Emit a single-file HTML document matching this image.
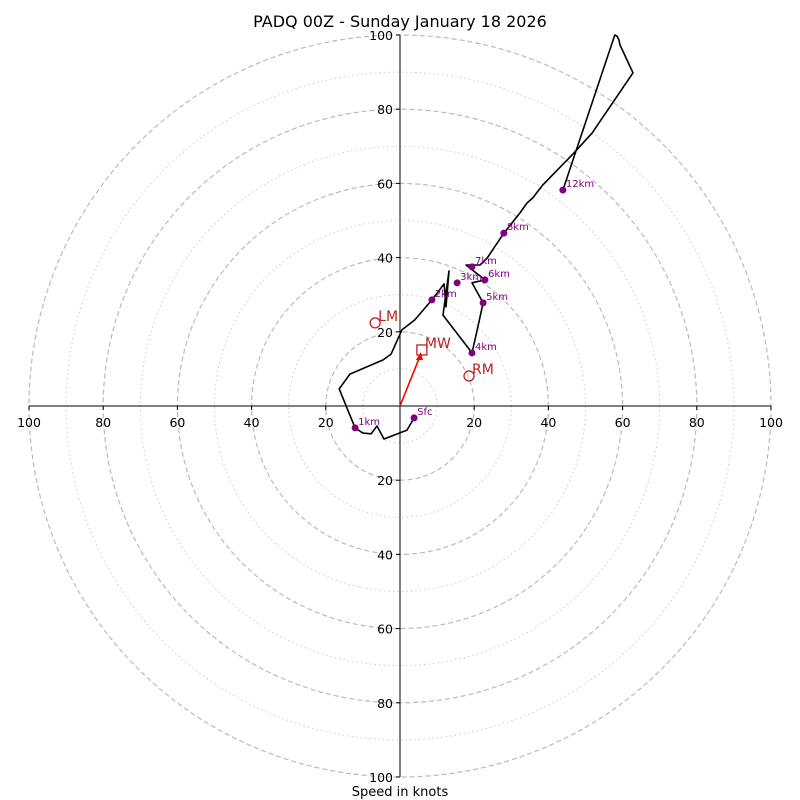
<!DOCTYPE html>
<html><head><meta charset="utf-8"><style>
html,body{margin:0;padding:0;background:#fff}
svg{display:block;font-family:"DejaVu Sans","Liberation Sans",sans-serif}
</style></head><body>
<svg id="chart" width="800" height="800" viewBox="0 0 800 800">
<text x="400" y="27" font-size="16" text-anchor="middle">PADQ 00Z - Sunday January 18 2026</text>
<text x="400" y="796" font-size="13" text-anchor="middle">Speed in knots</text>
<g id="grid"></g><g id="axes"></g><g id="plot"></g>
</svg>
<script>
const pathU=[3.8,1.9,-4.3,-6.2,-7.8,-10.0,-12.1,-16.4,-13.5,-4.6,-2.4,0.5,4.0,8.6,11.9,12.4,13.2,11.6,19.4,20.8,22.4,19.4,22.9,17.8,21.6,23.5,28.0,32.3,34.2,35.8,38.5,46.6,51.8,62.8,59.3,59.0,58.5,57.9,43.9];
const pathV=[-3.2,-6.5,-8.9,-5.4,-7.5,-7.3,-5.9,4.6,8.6,12.4,14.0,20.5,23.2,28.6,32.9,26.7,36.4,24.5,14.3,20.5,27.8,33.2,34.0,38.0,38.0,39.9,46.6,52.0,54.7,56.1,59.6,67.9,73.6,89.8,97.3,98.7,99.7,100,58.2];
const markLabels=["Sfc","1km","2km","3km","4km","5km","6km","7km","8km","12km"];
const markU=[3.8,-12.1,8.6,15.4,19.4,22.4,22.9,19.4,28.0,43.9];
const markV=[-3.2,-5.9,28.6,33.2,14.3,27.8,34.0,37.5,46.6,58.2];
const stormLabels=["LM","RM","MW"];
const stormU=[-6.7,18.6,5.9];
const stormV=[22.4,8.1,15.1];
const ringVals=[10,20,30,40,50,60,70,80,90,100];
const tickVals=[-100,-80,-60,-40,-20,20,40,60,80,100];

const NS="http://www.w3.org/2000/svg",CX=400,CY=406,K=3.71;
const sx=u=>CX+u*K, sy=v=>CY-v*K;
function mk(t,a,p){const e=document.createElementNS(NS,t);for(const k in a)e.setAttribute(k,a[k]);p.appendChild(e);return e;}
const grid=document.getElementById('grid'),axes=document.getElementById('axes'),plot=document.getElementById('plot');
ringVals.forEach(r=>{const major=r%20===0;
 const c=mk('circle',{cx:CX,cy:CY,r:r*K,fill:'none',stroke:major?'#bbb':'#ccc','stroke-width':major?1.2:1,'stroke-dasharray':major?'5,3':'1.5,3'},grid);
 
 });
let l=mk('line',{x1:sx(-100),y1:CY,x2:sx(100),y2:CY,stroke:'#000','stroke-width':1},axes);


l=mk('line',{x1:CX,y1:sy(100),x2:CX,y2:sy(-100),stroke:'#000','stroke-width':1},axes);


tickVals.forEach(t=>{
 mk('line',{x1:sx(t),y1:CY,x2:sx(t),y2:CY+4,stroke:'#000'},axes);
 let tx=mk('text',{x:sx(t),y:CY+21,'font-size':12.5,'text-anchor':'middle'},axes);tx.textContent=Math.abs(t);
 
 
 mk('line',{x1:CX-4,y1:sy(t),x2:CX,y2:sy(t),stroke:'#000'},axes);
 tx=mk('text',{x:CX-7,y:sy(t)+5,'font-size':12.5,'text-anchor':'end'},axes);tx.textContent=Math.abs(t);
 
 });
const pts=pathU.map((u,i)=>sx(u).toFixed(1)+','+sy(pathV[i]).toFixed(1)).join(' ');
const pl=mk('polyline',{points:pts,fill:'none',stroke:'#000','stroke-width':1.6,'stroke-linejoin':'round'},plot);


markLabels.forEach((lb,i)=>{
 const d=mk('circle',{cx:sx(markU[i]),cy:sy(markV[i]),r:3.5,fill:'purple'},plot);
 
 
 const t=mk('text',{x:sx(markU[i])+3,y:sy(markV[i])-3,'font-size':10,fill:'purple'},plot);t.textContent=lb;
 
 });
const ar=mk('line',{x1:CX,y1:CY,x2:sx(stormU[2])-1,y2:sy(stormV[2])+4,stroke:'red','stroke-width':1.6},plot);


const ah=mk('polygon',{points:`${sx(stormU[2])-1},${sy(stormV[2])+2} ${sx(stormU[2])-6},${sy(stormV[2])+10} ${sx(stormU[2])+1},${sy(stormV[2])+10}`,fill:'red'},plot);


stormLabels.forEach((lb,i)=>{const x=sx(stormU[i]),y=sy(stormV[i]);let s;
 if(lb==='MW')s=mk('rect',{x:x-5,y:y-5,width:10,height:10,fill:'none',stroke:'#b22','stroke-width':1.3},plot);
 else s=mk('circle',{cx:x,cy:y,r:5,fill:'none',stroke:'#b22','stroke-width':1.3},plot);
 
 
 const t=mk('text',{x:x+3,y:y-2,'font-size':14,fill:'#b22'},plot);t.textContent=lb;
 
 });
</script>
</body></html>
